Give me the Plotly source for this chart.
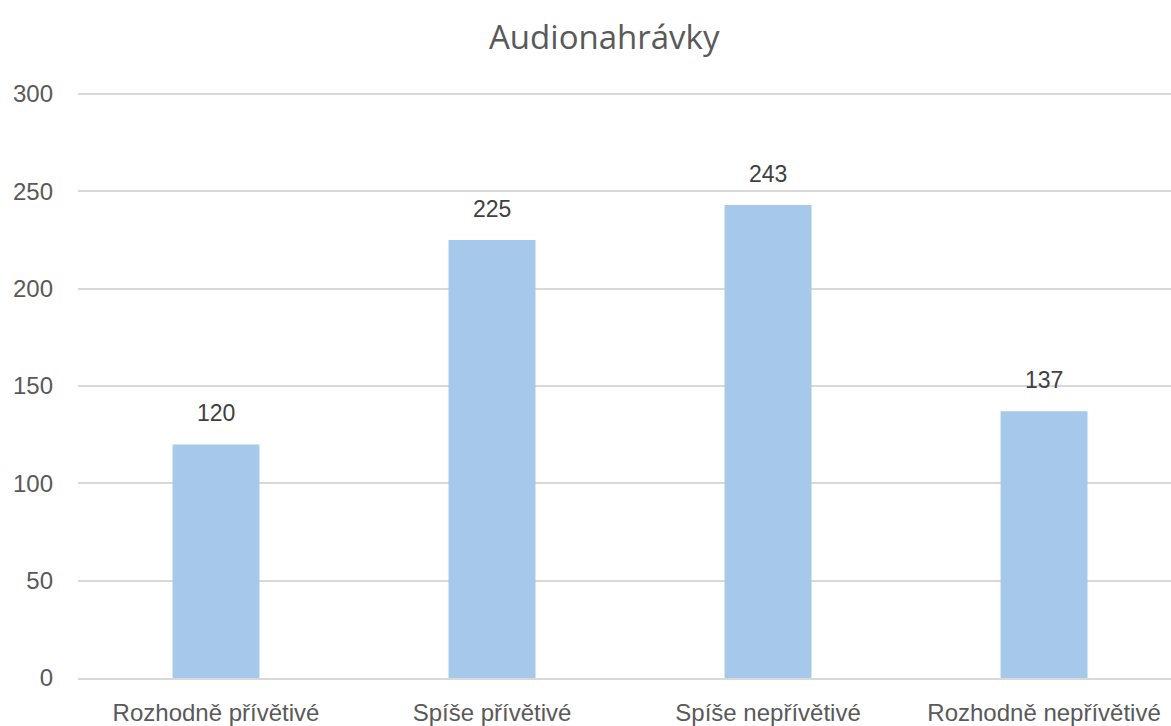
import plotly.graph_objects as go

categories = ["Rozhodně přívětivé", "Spíše přívětivé", "Spíše nepřívětivé", "Rozhodně nepřívětivé"]
values = [120, 225, 243, 137]
y_ticks = [0, 50, 100, 150, 200, 250, 300]

font_family = "Liberation Sans, Arial, sans-serif"
grey = "#595959"

fig = go.Figure(go.Bar(
    x=categories, y=values,
    marker=dict(color="#A6C8EA", line=dict(width=0)),
    width=0.315,
    hoverinfo="x+y",
))

for c, v in zip(categories, values):
    fig.add_annotation(x=c, y=v, text=str(v), showarrow=False, yshift=31,
                       xanchor="center", yanchor="middle",
                       font=dict(size=23, color="#404040", family=font_family))

fig.update_layout(
    width=1171, height=726,
    margin=dict(l=78, r=0, t=92, b=48),
    paper_bgcolor="white", plot_bgcolor="white",
    title=dict(text="Audionahrávky", x=0.516, xanchor="center", y=0.949, yanchor="middle",
               font=dict(size=33, color=grey, family="Open Sans, sans-serif")),
    showlegend=False,
)
fig.update_xaxes(range=[-0.5, 3.46], showgrid=False, showline=True, linecolor="#D9D9D9", linewidth=2,
                 automargin=False,
                 ticks="", ticklabelstandoff=12, tickfont=dict(size=24, color=grey, family=font_family))
fig.update_yaxes(range=[0, 301], tickvals=y_ticks, showgrid=True, gridcolor="#D9D9D9", gridwidth=2,
                 automargin=False,
                 zeroline=False, showline=False, ticks="", ticklabelstandoff=24,
                 tickfont=dict(size=24, color=grey, family=font_family))

fig.write_html("out.html")
